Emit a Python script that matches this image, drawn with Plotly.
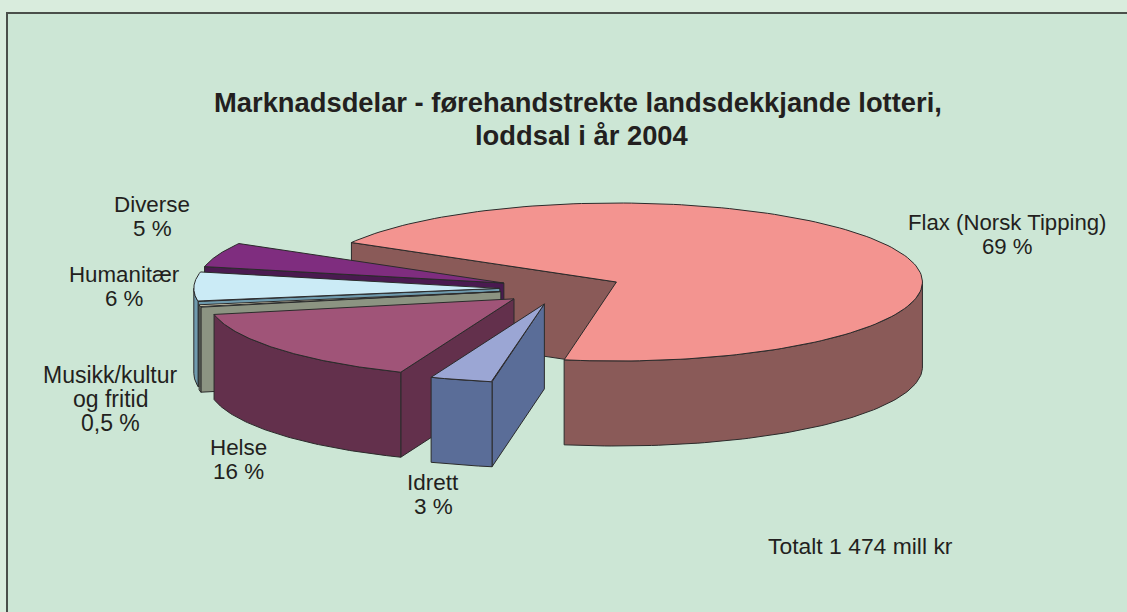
import numpy as np
import plotly.graph_objects as go

# --- data (labels are rounded; shares) ---
categories = ["Flax (Norsk Tipping)", "Idrett", "Helse", "Musikk/kultur og fritid", "Humanitær", "Diverse"]
shares = [69.4, 3.3, 15.8, 0.5, 6, 5]
top_colors = ["#f39490", "#9ba6d4", "#a05478", "#ece6c8", "#cbebf6", "#7f2d7f"]
wall_colors = ["#8a5a58", "#5a6d98", "#63304c", "#8c9482", "#6f9bae", "#4a1a50"]
paint_order = [0, 5, 4, 3, 2, 1]

title_lines = ["Marknadsdelar - førehandstrekte landsdekkjande lotteri,", "loddsal i år 2004"]
label_lines = [
    ["Flax (Norsk Tipping)", "69 %"], ["Idrett", "3 %"], ["Helse", "16 %"],
    ["Musikk/kultur", "og fritid", "0,5 %"], ["Humanitær", "6 %"], ["Diverse", "5 %"],
]
total_text = "Totalt 1 474 mill kr"

# --- layout / projection ---
W, H = 1127, 612
CX, CY, RX, RY, DEPTH, PULL, START = 561, 288.7, 306, 79, 85, 0.2, 150
BG_OUT, BG_IN, FRAME, INK, EDGE = "#d9ecdd", "#cce6d5", "#4a4f4a", "#231f20", "#2b2b2b"
LABEL_POS = [(1007, 222), (433, 482), (238.5, 447), (110, 375), (124, 274), (152, 204)]
LABEL_SIZES = [22.2, 22.5, 22.4, 23, 22.3, 22.4]
LABEL_STEP, TOTAL_SIZE, TITLE_SIZE = 24, 22.9, 27.35
TITLE_POS = [(578, 102), (582, 135)]

total = sum(shares)
edges = START - np.cumsum([0] + shares) / total * 360


def pt(t, apex):
    t = np.radians(t)
    return apex[0] + RX * np.cos(t), apex[1] - RY * np.sin(t)


fig = go.Figure()


def poly(xs, ys, color):
    fig.add_trace(go.Scatter(x=list(xs), y=list(ys), mode="lines", fill="toself", fillcolor=color,
                             line=dict(color=EDGE, width=1), hoverinfo="skip", showlegend=False))


for i in paint_order:
    a, b = edges[i], edges[i + 1]
    mid = np.radians((a + b) / 2)
    apex = (CX + PULL * RX * np.cos(mid), CY - PULL * RY * np.sin(mid))
    # radial wall facing the viewer
    if np.cos(np.radians(a)) < 0:
        ex, ey = pt(a, apex)
        poly([apex[0], ex, ex, apex[0], apex[0]],
             [apex[1], ey, ey + DEPTH, apex[1] + DEPTH, apex[1]], wall_colors[i])
    # outer wall: the part of the rim on the front half
    hi, lo = min(a, 0), max(b, -180)
    if hi > lo:
        ts = np.linspace(hi, lo, 80)
        xs, ys = pt(ts, apex)
        poly(np.r_[xs, xs[::-1], xs[0]], np.r_[ys, ys[::-1] + DEPTH, ys[0]], wall_colors[i])
    # top face
    ts = np.linspace(a, b, 160)
    xs, ys = pt(ts, apex)
    poly(np.r_[apex[0], xs, apex[0]], np.r_[apex[1], ys, apex[1]], top_colors[i])

ann = []
for (x, y), line in zip(TITLE_POS, title_lines):
    ann.append(dict(x=x, y=y, text="<b>%s</b>" % line, showarrow=False,
                    font=dict(size=TITLE_SIZE, color=INK)))
for (x, y), size, lines in zip(LABEL_POS, LABEL_SIZES, label_lines):
    for k, line in enumerate(lines):
        ann.append(dict(x=x, y=y + LABEL_STEP * k, text=line, showarrow=False,
                        font=dict(size=size, color=INK)))
ann.append(dict(x=860, y=546, text=total_text, showarrow=False, font=dict(size=TOTAL_SIZE, color=INK)))

fig.update_layout(
    width=W, height=H, margin=dict(l=0, r=0, t=0, b=0), paper_bgcolor=BG_OUT, plot_bgcolor=BG_OUT,
    font=dict(family="Liberation Sans, Arial, sans-serif"),
    xaxis=dict(range=[0, W], visible=False, fixedrange=True),
    yaxis=dict(range=[H, 0], visible=False, fixedrange=True),
    annotations=ann, showlegend=False,
    shapes=[dict(type="rect", x0=7, y0=13, x1=W + 20, y1=H + 20, xref="x", yref="y",
                 fillcolor=BG_IN, line=dict(color=FRAME, width=2), layer="below")],
)
fig.write_html("out.html", config={"displayModeBar": False},
               post_script="document.body.style.margin='0';document.documentElement.style.overflow='hidden';")
